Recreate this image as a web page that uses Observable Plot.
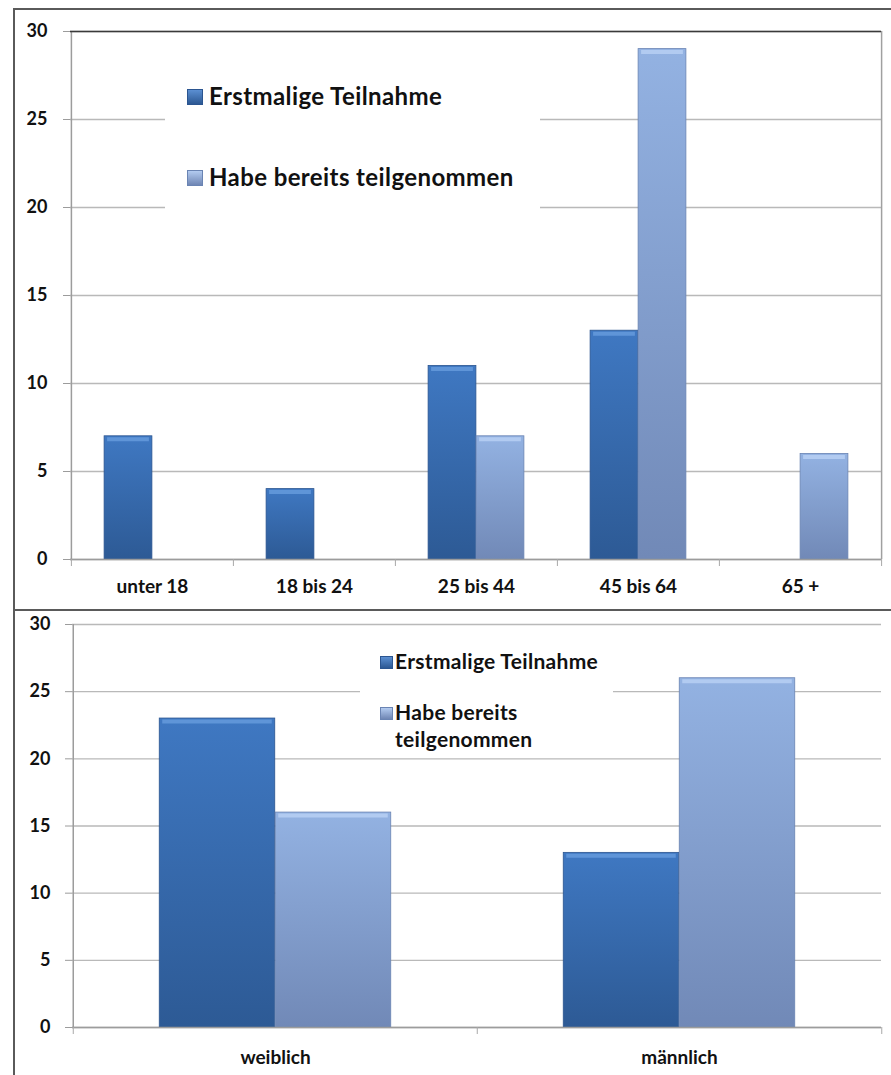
<!DOCTYPE html>
<html>
<head>
<meta charset="utf-8">
<script src="https://cdn.jsdelivr.net/npm/d3@7"></script>
<script src="https://cdn.jsdelivr.net/npm/@observablehq/plot@0.6"></script>
<style>
  html, body { margin: 0; padding: 0; background: #fff; }
  #wrap { position: relative; width: 891px; height: 1075px; overflow: hidden; font-family: Lato, "DejaVu Sans", sans-serif; color: #111; }
  .chart { position: absolute; left: 0; }
  .frame { position: absolute; border-left: 2px solid #5a5a5a; border-top: 2px solid #5a5a5a; }
  .legend { position: absolute; background: #fff; }
  .item { position: absolute; white-space: nowrap; font-weight: 700; line-height: 1; }
  .sw { position: absolute; box-sizing: border-box; }
  .sw.dark { background: linear-gradient(#5b8fd2, #2c5893); border: 1px solid #2b5590; }
  .sw.light { background: linear-gradient(#b3cbf0, #6f86b4); border: 1px solid #6a84b3; }
</style>
</head>
<body>
<svg width="0" height="0" style="position:absolute">
  <defs>
    <linearGradient id="gDark" x1="0" y1="0" x2="0" y2="1">
      <stop offset="0" stop-color="#3f78c2"/>
      <stop offset="1" stop-color="#2d5a95"/>
    </linearGradient>
    <linearGradient id="gLight" x1="0" y1="0" x2="0" y2="1">
      <stop offset="0" stop-color="#93b2e2"/>
      <stop offset="1" stop-color="#7189b7"/>
    </linearGradient>
  </defs>
</svg>
<div id="wrap"></div>
<script>
// ---- data ----
const series = ["Erstmalige Teilnahme", "Habe bereits teilgenommen"];
const ageGroups = ["unter 18", "18 bis 24", "25 bis 44", "45 bis 64", "65 +"];
const ageFirst = [7, 4, 11, 13, 0];
const ageRepeat = [0, 0, 7, 29, 6];
const genders = ["weiblich", "männlich"];
const genderFirst = [23, 13];
const genderRepeat = [16, 26];
const yTicks = [0, 5, 10, 15, 20, 25, 30];

const toRows = (cats, a, b) => cats.flatMap((c, i) => [
  {cat: c, series: series[0], value: a[i]},
  {cat: c, series: series[1], value: b[i]}
]);

function makeChart({cats, rows, width, height, mt, mb, ml, mr, bw, yPad, xPad, xFont, fullFrame}) {
  const step = (width - ml - mr) / cats.length;
  const half = step / 2;
  const dark = rows.filter(d => d.series === series[0] && d.value > 0);
  const light = rows.filter(d => d.series === series[1] && d.value > 0);
  const last = cats[cats.length - 1];
  const marks = [
    Plot.gridY(yTicks, {stroke: "#b9b9b9", strokeOpacity: 1, strokeWidth: 1.4}),
    Plot.barY(dark, {x: "cat", y: "value", fill: "url(#gDark)", stroke: "#2b5590", strokeWidth: 0.8,
      insetLeft: half - bw, insetRight: half}),
    Plot.barY(light, {x: "cat", y: "value", fill: "url(#gLight)", stroke: "#6a84b3", strokeWidth: 0.8,
      insetLeft: half, insetRight: half - bw}),
    // bevel highlight at the top of each bar
    Plot.tickY(dark, {x: "cat", y: "value", stroke: "#5f95d8", strokeWidth: 4, dy: 3,
      insetLeft: half - bw + 3, insetRight: half + 3}),
    Plot.tickY(light, {x: "cat", y: "value", stroke: "#b2cbf1", strokeWidth: 4, dy: 3,
      insetLeft: half + 3, insetRight: half - bw + 3}),
    Plot.ruleY([0], {stroke: "#9c9c9c", strokeWidth: 1.5}),
    Plot.ruleX([cats[0]], {x: d => d, dx: -half, stroke: "#9c9c9c", strokeWidth: 1.5}),
    Plot.axisY(yTicks, {tickSize: 7, tickPadding: yPad, stroke: "#9c9c9c", fontSize: 18, fontWeight: "bold", tickFormat: d => d}),
    Plot.axisX(cats, {tickSize: 7, tickFormat: () => "", dx: -half, stroke: "#a8a8a8"}),
    Plot.axisX([last], {tickSize: 7, tickFormat: () => "", dx: half, stroke: "#a8a8a8"}),
    Plot.axisX(cats, {tickSize: 0, tickPadding: xPad, fontSize: xFont, fontWeight: "bold"})
  ];
  if (fullFrame) {
    marks.push(Plot.ruleX([last], {x: d => d, dx: half, stroke: "#a0a0a0", strokeWidth: 1.5}));
    marks.push(Plot.ruleY([30], {stroke: "#3a3a3a", strokeWidth: 1.6}));
  }
  return Plot.plot({
    width, height,
    marginTop: mt, marginBottom: mb, marginLeft: ml, marginRight: mr,
    style: {fontFamily: "Lato, 'DejaVu Sans', sans-serif", color: "#111", background: "transparent"},
    x: {domain: cats, padding: 0, label: null},
    y: {domain: [0, 30], label: null},
    marks
  });
}

const wrap = document.getElementById("wrap");

const chartAge = makeChart({cats: ageGroups, rows: toRows(ageGroups, ageFirst, ageRepeat),
  width: 891, height: 610, mt: 31, mb: 51, ml: 70, mr: 10, bw: 48, yPad: 16, xPad: 20, xFont: 19, fullFrame: true});
chartAge.classList.add("chart"); chartAge.style.top = "0px";
wrap.appendChild(chartAge);

const chartGender = makeChart({cats: genders, rows: toRows(genders, genderFirst, genderRepeat),
  width: 891, height: 465, mt: 14, mb: 48, ml: 72, mr: 10, bw: 116, yPad: 15, xPad: 23, xFont: 19, fullFrame: false});
chartGender.classList.add("chart"); chartGender.style.top = "610px";
wrap.appendChild(chartGender);

// outer frames
function frame(left, topY, h) {
  const f = document.createElement("div");
  f.className = "frame";
  Object.assign(f.style, {left: left + "px", top: topY + "px", width: "900px", height: h + "px"});
  wrap.appendChild(f);
}
frame(13, 8, 602);
frame(13, 609, 480);

// legends
function legend(box, items) {
  const L = document.createElement("div");
  L.className = "legend";
  Object.assign(L.style, {left: box.x + "px", top: box.y + "px", width: box.w + "px", height: box.h + "px"});
  wrap.appendChild(L);
  for (const it of items) {
    if (it.sw) {
      const s = document.createElement("div");
      s.className = "sw " + it.sw;
      Object.assign(s.style, {left: (it.sx - box.x) + "px", top: (it.cy - box.y - it.ss / 2) + "px", width: it.ss + "px", height: it.ss + "px"});
      L.appendChild(s);
    }
    const t = document.createElement("div");
    t.className = "item";
    t.textContent = it.text;
    Object.assign(t.style, {left: (it.tx - box.x) + "px", top: (it.cy - box.y - it.fs * 0.55) + "px", fontSize: it.fs + "px", letterSpacing: (it.ls || 0) + "px"});
    L.appendChild(t);
  }
}
legend({x: 165, y: 56, w: 375, h: 158}, [
  {sw: "dark", text: series[0], sx: 187, tx: 209, cy: 97, ss: 16, fs: 24, ls: 0.4},
  {sw: "light", text: series[1], sx: 187, tx: 209, cy: 178, ss: 16, fs: 24, ls: 0.4}
]);
legend({x: 360, y: 645, w: 253, h: 108}, [
  {sw: "dark", text: series[0], sx: 380, tx: 395, cy: 662, ss: 13, fs: 21, ls: 0.3},
  {sw: "light", text: "Habe bereits", sx: 380, tx: 395, cy: 713, ss: 13, fs: 21, ls: 0.3},
  {text: "teilgenommen", tx: 395, cy: 740, fs: 21, ls: 0.3}
]);
</script>
</body>
</html>
